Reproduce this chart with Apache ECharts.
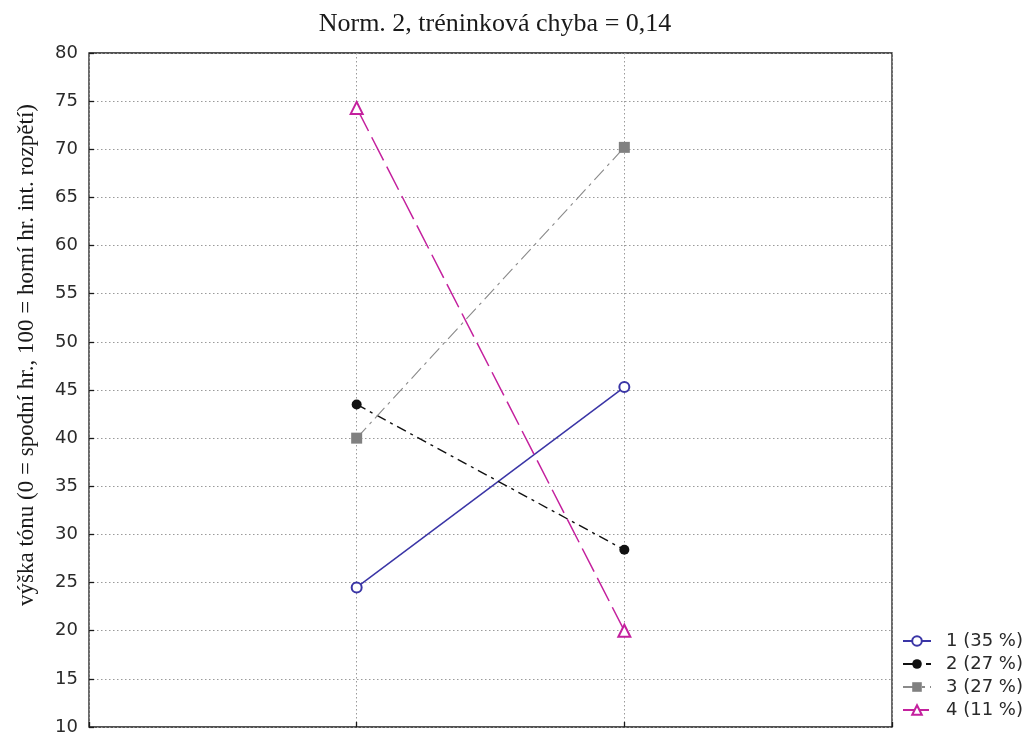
<!DOCTYPE html>
<html>
<head>
<meta charset="utf-8">
<script src="https://cdn.jsdelivr.net/npm/echarts@6/dist/echarts.min.js"></script>
<style>
  html, body { margin: 0; padding: 0; background: #fff; }
  #chart { width: 1030px; height: 736px; }
</style>
</head>
<body>
<div id="chart"></div>
<script>
// Positions of the two measured variables along the x axis
const xPositions = [1, 2];

// Cluster means (pitch height, 0 = lower bound, 100 = upper bound of range)
const cluster1 = [24.5, 45.3];
const cluster2 = [43.5, 28.4];
const cluster3 = [40.0, 70.2];
const cluster4 = [74.3, 20.0];

const seriesNames = ['1 (35 %)', '2 (27 %)', '3 (27 %)', '4 (11 %)'];
const yTicks = { min: 10, max: 80, step: 5 };

const titleText = 'Norm. 2, tréninková chyba = 0,14';
const yAxisTitle = 'výška tónu (0 = spodní hr., 100 = horní hr. int. rozpětí)';

function pairs(values) {
  return values.map((v, i) => [xPositions[i], v]);
}

const chart = echarts.init(document.getElementById('chart'), null, { renderer: 'canvas' });

const gridDots = { type: [1.5, 2.5], color: '#9a9a9a', width: 1 };

const option = {
  backgroundColor: '#ffffff',
  animation: false,
  title: {
    text: titleText,
    left: 490,
    textAlign: 'center',
    top: 6,
    textStyle: { fontFamily: 'Liberation Serif', fontWeight: 'normal', fontSize: 26, color: '#1a1a1a' }
  },
  grid: {
    left: 89, right: 138, top: 53, bottom: 9,
    show: true, borderColor: '#1a1a1a', borderWidth: 1.3
  },
  xAxis: {
    type: 'value', min: 0, max: 3, interval: 1,
    axisLine: { show: false },
    axisTick: { show: true, inside: true, length: 5, lineStyle: { color: '#1a1a1a', width: 1.3 } },
    axisLabel: { show: false },
    splitLine: { show: true, lineStyle: gridDots }
  },
  yAxis: {
    type: 'value', min: yTicks.min, max: yTicks.max, interval: yTicks.step,
    axisLine: { show: false },
    axisTick: { show: true, inside: true, length: 5, lineStyle: { color: '#1a1a1a', width: 1.3 } },
    axisLabel: { fontFamily: 'DejaVu Sans', fontSize: 18, color: '#2a2a2a', margin: 11 },
    splitLine: { show: true, lineStyle: gridDots }
  },
  legend: {
    orient: 'vertical',
    left: 902, top: 632,
    padding: 0,
    itemWidth: 28, itemHeight: 12, itemGap: 5,
    textStyle: { fontFamily: 'DejaVu Sans', fontSize: 18, color: '#2a2a2a', padding: [0, 0, 0, 10] },
    data: seriesNames
  },
  graphic: [{
    type: 'text',
    x: 27, y: 355,
    rotation: Math.PI / 2,
    style: {
      text: yAxisTitle,
      font: '23px "Liberation Serif"',
      fill: '#1a1a1a',
      textAlign: 'center',
      textVerticalAlign: 'middle'
    }
  }],
  series: [
    {
      name: seriesNames[0], type: 'line', data: pairs(cluster1),
      symbol: 'emptyCircle', symbolSize: 10,
      lineStyle: { color: '#3a35a6', width: 1.5, type: 'solid' },
      itemStyle: { color: '#3a35a6', borderWidth: 1.3 }
    },
    {
      name: seriesNames[1], type: 'line', data: pairs(cluster2),
      symbol: 'circle', symbolSize: 10,
      lineStyle: { color: '#111111', width: 1.4, type: [10, 5, 3, 5] },
      itemStyle: { color: '#111111' }
    },
    {
      name: seriesNames[2], type: 'line', data: pairs(cluster3),
      symbol: 'rect', symbolSize: 11,
      lineStyle: { color: '#8a8a8a', width: 1.1, type: [14, 5, 3, 5] },
      itemStyle: { color: '#808080' }
    },
    {
      name: seriesNames[3], type: 'line', data: pairs(cluster4),
      symbol: 'emptyTriangle', symbolSize: 12,
      lineStyle: { color: '#c4219e', width: 1.5, type: [26, 7] },
      itemStyle: { color: '#c4219e', borderWidth: 1.3 }
    }
  ]
};

chart.setOption(option);
</script>
</body>
</html>
